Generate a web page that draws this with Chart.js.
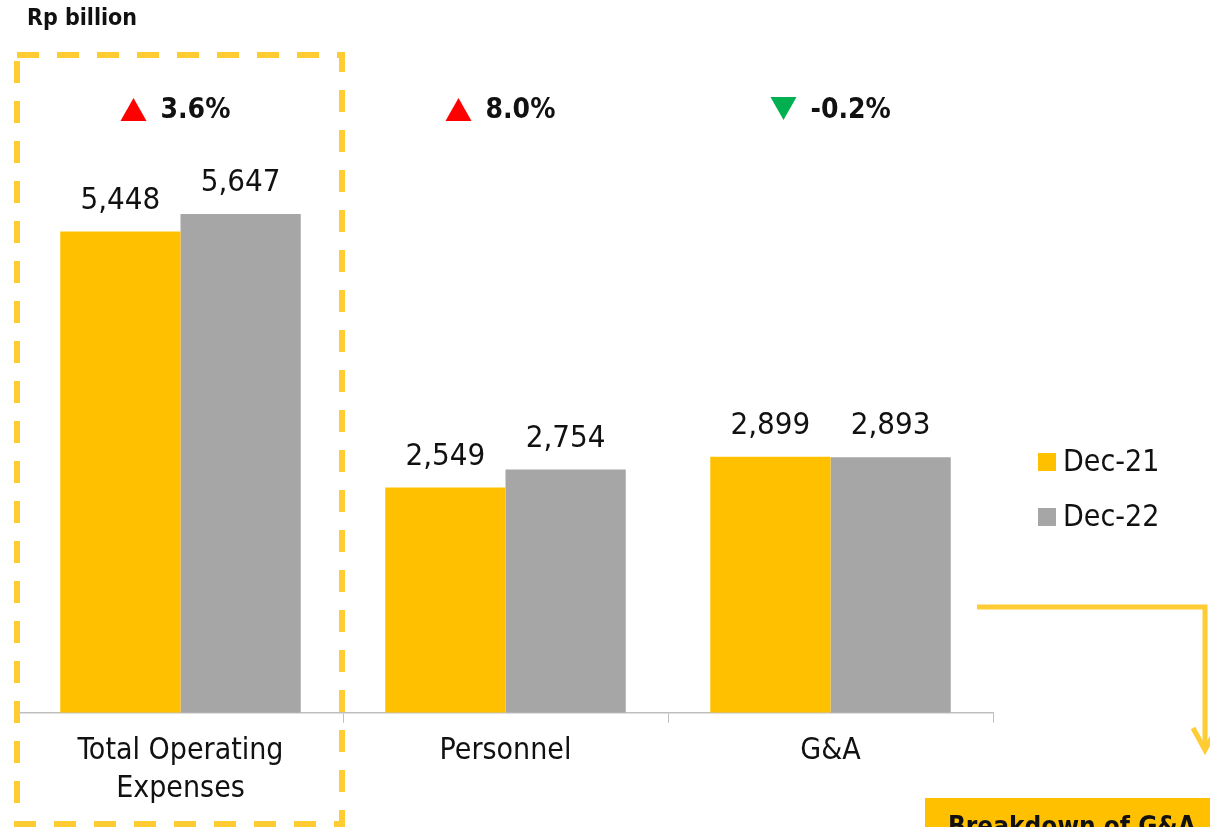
<!DOCTYPE html>
<html>
<head>
<meta charset="utf-8">
<script src="https://cdn.jsdelivr.net/npm/chart.js@4/dist/chart.umd.min.js"></script>
<style>
  html, body { margin: 0; padding: 0; background: #fff; }
  #wrap { position: relative; width: 1210px; height: 827px; }
</style>
</head>
<body>
<div id="wrap"><canvas id="opexChart"></canvas></div>
<script>
const categories = [['Total Operating', 'Expenses'], 'Personnel', 'G&A'];
const dec21 = [5448, 2549, 2899];
const dec22 = [5647, 2754, 2893];
const growthLabels = ['3.6%', '8.0%', '-0.2%'];
const growthUp = [true, true, false];
const seriesNames = ['Dec-21', 'Dec-22'];

const FONT = "'DejaVu Sans Condensed', 'DejaVu Sans', sans-serif";
const YELLOW = '#FFC000';
const GREY = '#A6A6A6';
const DASH_YELLOW = '#FFCC33';

// labels, growth markers, legend and the decorations around the chart
const overlay = {
    id: 'overlay',
    afterDatasetsDraw(chart) {
        const ctx = chart.ctx;
        ctx.save();
        ctx.fillStyle = '#111';
        ctx.font = '31px ' + FONT;
        ctx.textAlign = 'center';
        ctx.textBaseline = 'middle';
        chart.data.datasets.forEach((ds, i) => {
            chart.getDatasetMeta(i).data.forEach((bar, j) => {
                ctx.fillText(ds.data[j].toLocaleString('en-US'), bar.x, bar.y - 31);
            });
        });
        ctx.restore();
    },
    afterDraw(chart) {
        const ctx = chart.ctx;
        const xs = chart.scales.x;
        ctx.save();

        // growth markers
        ctx.font = 'bold 28px ' + FONT;
        ctx.textBaseline = 'middle';
        ctx.textAlign = 'left';
        growthLabels.forEach((txt, i) => {
            const triW = 26, gap = 14;
            const x0 = xs.getPixelForValue(i) - 60;
            const y = 110;
            ctx.beginPath();
            if (growthUp[i]) {
                ctx.fillStyle = '#FF0000';
                ctx.moveTo(x0, y + 11);
                ctx.lineTo(x0 + triW, y + 11);
                ctx.lineTo(x0 + triW / 2, y - 12);
            } else {
                ctx.fillStyle = '#00B050';
                ctx.moveTo(x0, y - 13);
                ctx.lineTo(x0 + triW, y - 13);
                ctx.lineTo(x0 + triW / 2, y + 10);
            }
            ctx.closePath();
            ctx.fill();
            ctx.fillStyle = '#111';
            ctx.fillText(txt, x0 + triW + gap, y + 1);
        });

        // unit label
        ctx.font = 'bold 23px ' + FONT;
        ctx.fillStyle = '#111';
        ctx.fillText('Rp billion', 27, 19);

        // legend
        ctx.font = '30px ' + FONT;
        const colors = [YELLOW, GREY];
        seriesNames.forEach((name, i) => {
            const y = 462 + i * 55;
            ctx.fillStyle = colors[i];
            ctx.fillRect(1038, y - 9, 18, 18);
            ctx.fillStyle = '#111';
            ctx.fillText(name, 1063, y + 1);
        });

        // dashed highlight box
        ctx.strokeStyle = DASH_YELLOW;
        ctx.lineWidth = 6;
        ctx.setLineDash([22, 18]);
        ctx.strokeRect(17, 55, 325, 769);
        ctx.setLineDash([]);

        // connector arrow
        ctx.lineWidth = 5;
        ctx.beginPath();
        ctx.moveTo(977, 607);
        ctx.lineTo(1205, 607);
        ctx.lineTo(1205, 750);
        ctx.stroke();
        ctx.beginPath();
        ctx.moveTo(1193, 728);
        ctx.lineTo(1205, 750);
        ctx.lineTo(1217, 728);
        ctx.stroke();

        // breakdown banner (cut by the frame)
        ctx.fillStyle = YELLOW;
        ctx.fillRect(925, 798, 285, 40);
        ctx.fillStyle = '#111';
        ctx.font = 'bold 26px ' + FONT;
        ctx.textBaseline = 'alphabetic';
        ctx.fillText('Breakdown of G&A', 948, 835);

        ctx.restore();
    }
};

document.addEventListener('DOMContentLoaded', () => {
    const ctxOpex = document.getElementById('opexChart')?.getContext('2d');
    if (ctxOpex) {
        new Chart(ctxOpex, {
            type: 'bar',
            data: {
                labels: categories,
                datasets: [
                    { label: seriesNames[0], data: dec21, backgroundColor: YELLOW },
                    { label: seriesNames[1], data: dec22, backgroundColor: GREY }
                ]
            },
            options: {
                responsive: true,
                maintainAspectRatio: false,
                animation: false,
                categoryPercentage: 0.74,
                barPercentage: 1.0,
                layout: { padding: { left: 18, right: 217, top: 6, bottom: 10 } },
                plugins: {
                    legend: { display: false },
                    tooltip: { enabled: false }
                },
                scales: {
                    x: {
                        grid: {
                            display: true,
                            drawOnChartArea: false,
                            offset: true,
                            tickLength: 10,
                            color: '#BFBFBF'
                        },
                        border: { display: true, color: '#BFBFBF', width: 1.5 },
                        ticks: {
                            color: '#111',
                            padding: 9,
                            font: { family: FONT, size: 30, lineHeight: 1.27 }
                        }
                    },
                    y: {
                        display: false,
                        min: 0,
                        max: 8000
                    }
                }
            },
            plugins: [overlay]
        });
    }
});
</script>
</body>
</html>
